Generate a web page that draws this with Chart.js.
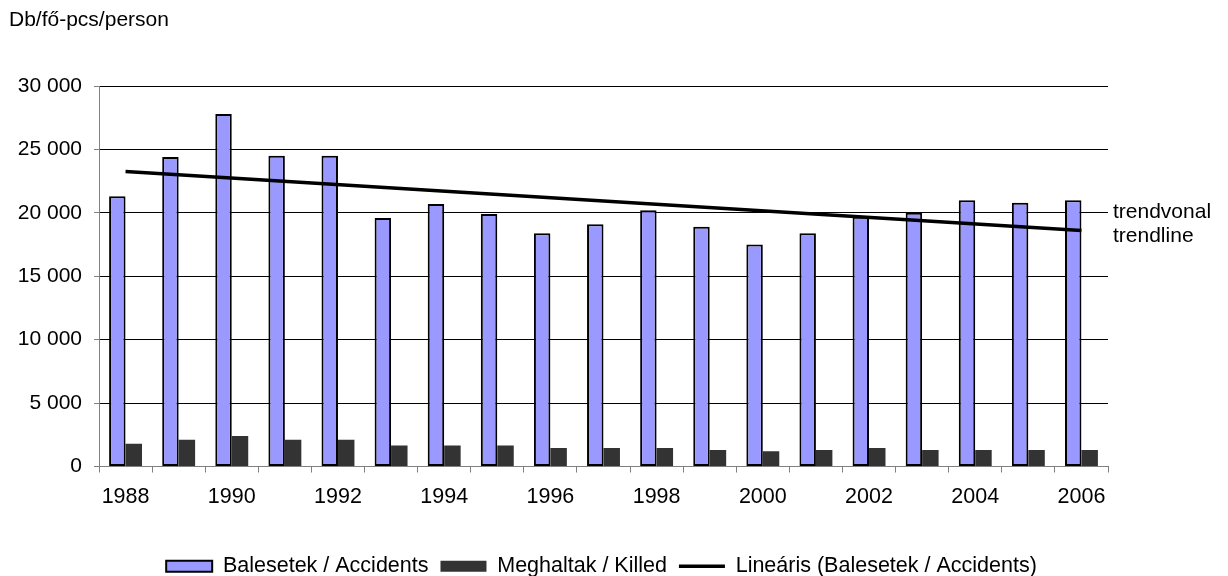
<!DOCTYPE html>
<html>
<head>
<meta charset="utf-8">
<script src="https://cdn.jsdelivr.net/npm/chart.js@4/dist/chart.umd.min.js"></script>
<style>
  html, body { margin: 0; padding: 0; background: #fff; }
  #wrap { width: 1228px; height: 576px; }
</style>
</head>
<body>
<div id="wrap"><canvas id="c" width="1228" height="576"></canvas></div>
<script>
const years = ['1988','1989','1990','1991','1992','1993','1994','1995','1996','1997','1998','1999','2000','2001','2002','2003','2004','2005','2006'];
const accidents = [21300, 24400, 27800, 24500, 24500, 19600, 20700, 19900, 18400, 19100, 20200, 18900, 17500, 18400, 19700, 20000, 21000, 20800, 21000];
const killed = [1800, 2100, 2400, 2100, 2100, 1650, 1650, 1650, 1450, 1450, 1450, 1300, 1200, 1300, 1450, 1300, 1300, 1300, 1300];
// trendline end values (first and last year)
const trendEnds = [23250, 18600];
const yTicks = [0, 5000, 10000, 15000, 20000, 25000, 30000];
const seriesNames = ['Balesetek / Accidents', 'Meghaltak / Killed', 'Lineáris (Balesetek / Accidents)'];
const axisTitle = 'Db/fő-pcs/person';
const trendNote = ['trendvonal', 'trendline'];

const FONT = "'Liberation Sans', Arial, sans-serif";
const trendData = years.map((y, i) => i === 0 ? trendEnds[0] : (i === years.length - 1 ? trendEnds[1] : null));

const textPlugin = {
  id: 'texts',
  afterLayout(chart) {
    if (chart.legend) { chart.legend.left = 95; }
  },
  afterDraw(chart) {
    const ctx = chart.ctx;
    ctx.save();
    ctx.fillStyle = '#000';
    ctx.textBaseline = 'middle';
    ctx.textAlign = 'left';
    ctx.font = '21px ' + FONT;
    ctx.fillText(axisTitle, 9, 20);
    ctx.fillText(trendNote[0], 1113, 212);
    ctx.fillText(trendNote[1], 1113, 236);
    ctx.restore();
  }
};

new Chart(document.getElementById('c'), {
  type: 'bar',
  data: {
    labels: years,
    datasets: [
      {
        label: seriesNames[0],
        data: accidents,
        backgroundColor: '#9999FF',
        borderColor: '#000',
        borderWidth: 2,
        borderSkipped: false,
        order: 2
      },
      {
        label: seriesNames[1],
        data: killed,
        backgroundColor: '#333333',
        borderWidth: 0,
        order: 2
      },
      {
        type: 'line',
        label: seriesNames[2],
        data: trendData,
        spanGaps: true,
        borderColor: '#000',
        backgroundColor: '#000',
        borderWidth: 3.5,
        pointRadius: 0,
        pointHoverRadius: 0,
        pointStyle: 'line',
        order: 1
      }
    ]
  },
  options: {
    responsive: false,
    animation: false,
    devicePixelRatio: 1,
    layout: { padding: { left: 0, right: 120, top: 86, bottom: -11 } },
    datasets: { bar: { categoryPercentage: 0.62, barPercentage: 1 } },
    plugins: {
      tooltip: { enabled: false },
      title: { display: false },
      legend: {
        position: 'bottom',
        labels: {
          usePointStyle: true,
          pointStyleWidth: 46,
          boxWidth: 46,
          boxHeight: 11,
          padding: 12,
          color: '#000',
          font: { family: FONT, size: 21.5 },
          sort: (a, b) => a.datasetIndex - b.datasetIndex,
          generateLabels(chart) {
            return chart.data.datasets.map((ds, i) => ({
              text: ds.label,
              datasetIndex: i,
              fillStyle: ds.backgroundColor,
              strokeStyle: ds.type === 'line' ? '#000' : (ds.borderWidth ? '#000' : ds.backgroundColor),
              lineWidth: ds.type === 'line' ? 3.5 : (ds.borderWidth ? 2 : 0),
              pointStyle: ds.type === 'line' ? 'line' : 'rect',
              fontColor: '#000',
              hidden: false
            }));
          }
        }
      }
    },
    scales: {
      x: {
        offset: true,
        afterFit(scale) { scale.height = 77; },
        grid: {
          offset: true,
          drawOnChartArea: false,
          drawTicks: true,
          tickLength: 6,
          tickColor: '#808080'
        },
        border: { color: '#808080', width: 1 },
        ticks: {
          autoSkip: false,
          maxRotation: 0,
          minRotation: 0,
          padding: 12,
          color: '#000',
          font: { family: FONT, size: 21.5 },
          callback(value, index) { return index % 2 === 0 ? years[index] : ''; }
        }
      },
      y: {
        min: yTicks[0],
        max: yTicks[yTicks.length - 1],
        afterFit(scale) { scale.width = 99; },
        afterBuildTicks(scale) { scale.ticks = yTicks.map(v => ({ value: v })); },
        grid: {
          color: ctx => (ctx.tick && ctx.tick.value === 0) ? 'rgba(0,0,0,0)' : '#000',
          lineWidth: 1,
          tickLength: 5,
          tickColor: '#808080'
        },
        border: { color: '#808080', width: 1 },
        ticks: {
          padding: 12,
          color: '#000',
          font: { family: FONT, size: 21 },
          callback(value) { return String(value).replace(/\B(?=(\d{3})+(?!\d))/g, ' '); }
        }
      }
    }
  },
  plugins: [textPlugin]
});
</script>
</body>
</html>
